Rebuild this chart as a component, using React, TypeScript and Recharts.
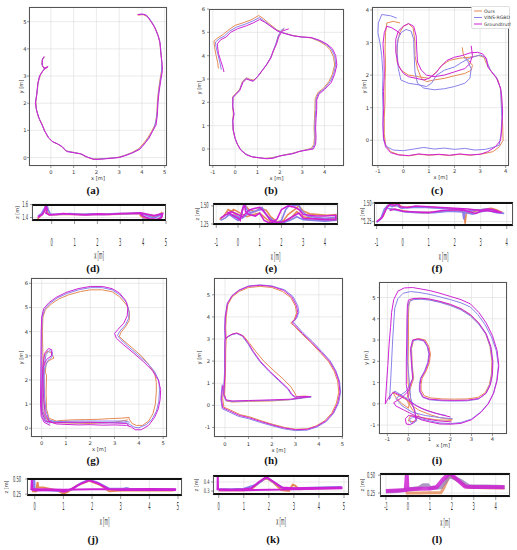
import React from 'react';
import { LineChart, Line, XAxis, YAxis, CartesianGrid } from 'recharts';

const OURS_C = '#e58a55';
const VINS_C = '#8a82ea';
const GT_C = '#cf23d3';
const SERIES_NAMES = ['Ours', 'VINS-RGBD', 'Groundtruth'];

type Pts = number[][];

// ---------- (a) x-y ----------
const A_GT: Pts = [[3.8,5.26],[4.0,5.28],[4.2,5.24],[4.4,5.0],[4.55,4.8],[4.7,4.5],[4.8,4.2],[4.82,3.9],[4.88,3.5],[4.9,3.2],[4.82,2.8],[4.75,2.4],[4.7,2.0],[4.68,1.6],[4.62,1.2],[4.45,0.95],[4.3,0.7],[4.1,0.5],[3.9,0.3],[3.6,0.18],[3.3,0.08],[3.0,0.0],[2.6,-0.03],[2.2,-0.06],[1.9,-0.07],[1.6,0.02],[1.35,0.13],[1.0,0.18],[0.7,0.22],[0.5,0.4],[0.3,0.5],[0.1,0.57],[-0.1,0.72],[-0.25,0.95],[-0.38,1.2],[-0.5,1.4],[-0.62,1.7],[-0.68,2.0],[-0.62,2.3],[-0.58,2.7],[-0.5,3.0],[-0.35,3.2],[-0.2,3.3],[-0.12,3.35],[-0.3,3.28],[-0.38,3.4],[-0.38,3.6],[-0.3,3.72]];
const A_OURS: Pts = [[3.82,5.24],[4.05,5.26],[4.25,5.18],[4.45,4.95],[4.62,4.7],[4.75,4.4],[4.8,4.1],[4.85,3.7],[4.88,3.3],[4.8,2.9],[4.73,2.5],[4.68,2.1],[4.66,1.7],[4.6,1.25],[4.43,0.97],[4.25,0.72],[4.05,0.5],[3.85,0.32],[3.55,0.18],[3.2,0.07],[2.9,0.0],[2.5,-0.03],[2.1,-0.05],[1.8,-0.05],[1.5,0.04],[1.3,0.14],[0.95,0.2],[0.65,0.25],[0.45,0.42],[0.25,0.52],[0.05,0.6],[-0.12,0.75],[-0.28,0.98],[-0.4,1.25],[-0.55,1.5],[-0.64,1.8],[-0.66,2.1],[-0.6,2.45],[-0.55,2.8],[-0.45,3.05],[-0.3,3.25],[-0.15,3.32],[-0.32,3.3],[-0.4,3.45],[-0.36,3.62],[-0.28,3.7]];
const A_VINS: Pts = [[3.85,5.27],[4.1,5.27],[4.3,5.15],[4.5,4.9],[4.65,4.62],[4.78,4.3],[4.83,3.95],[4.87,3.5],[4.86,3.1],[4.78,2.7],[4.72,2.3],[4.69,1.9],[4.64,1.45],[4.52,1.05],[4.35,0.8],[4.15,0.55],[3.95,0.35],[3.65,0.2],[3.3,0.09],[3.0,0.01],[2.6,-0.02],[2.2,-0.05],[1.9,-0.06],[1.55,0.03],[1.3,0.14],[0.98,0.19],[0.68,0.24],[0.48,0.41],[0.28,0.51],[0.08,0.58],[-0.1,0.74],[-0.27,0.97],[-0.4,1.22],[-0.52,1.45],[-0.63,1.75],[-0.67,2.05],[-0.61,2.4],[-0.56,2.75],[-0.48,3.02],[-0.33,3.22],[-0.17,3.32],[-0.31,3.29],[-0.39,3.42],[-0.37,3.61],[-0.29,3.71]];

// ---------- (b) x-y ----------
const B_GT: Pts = [[-0.5,3.3],[-0.55,3.5],[-0.65,3.8],[-0.75,4.1],[-0.8,4.5],[-0.65,4.68],[-0.4,4.8],[-0.2,5.0],[0.1,5.15],[0.5,5.28],[0.8,5.4],[1.1,5.55],[1.3,5.45],[1.6,5.25],[1.9,5.05],[2.2,4.95],[2.6,4.85],[3.0,4.8],[3.4,4.78],[3.8,4.65],[4.1,4.5],[4.35,4.3],[4.5,4.0],[4.55,3.6],[4.45,3.2],[4.3,2.85],[4.0,2.55],[3.75,2.35],[3.65,2.1],[3.65,1.7],[3.62,1.3],[3.6,0.9],[3.62,0.5],[3.6,0.2],[3.5,0.0],[3.2,-0.05],[2.9,-0.1],[2.6,-0.2],[2.3,-0.25],[2.0,-0.3],[1.7,-0.4],[1.4,-0.42],[1.1,-0.38],[0.8,-0.35],[0.5,-0.25],[0.25,-0.05],[0.1,0.2],[0.0,0.45],[-0.08,0.8],[-0.1,1.2],[-0.05,1.5],[-0.1,1.8],[-0.1,2.2],[0.05,2.35],[0.2,2.5],[0.35,2.85],[0.5,3.0],[0.65,2.95],[0.8,2.9],[1.0,3.1],[1.2,3.35],[1.4,3.6],[1.6,3.9],[1.7,4.2],[1.85,4.5],[1.95,4.8],[2.1,5.05],[2.4,5.15]];
const B_OURS: Pts = [[-0.75,3.45],[-0.78,3.7],[-0.85,4.0],[-0.92,4.35],[-0.95,4.62],[-0.8,4.75],[-0.55,4.9],[-0.3,5.1],[0.0,5.3],[0.4,5.42],[0.75,5.55],[1.05,5.72],[1.25,5.6],[1.55,5.35],[1.85,5.12],[2.15,4.98],[2.6,4.86],[3.0,4.8],[3.4,4.76],[3.75,4.62],[4.05,4.45],[4.25,4.25],[4.4,3.95],[4.45,3.6],[4.35,3.2],[4.2,2.9],[3.95,2.6],[3.7,2.42],[3.58,2.15],[3.57,1.7],[3.55,1.3],[3.53,0.9],[3.55,0.5],[3.52,0.2],[3.4,0.02],[3.1,-0.05],[2.8,-0.12],[2.5,-0.2],[2.2,-0.25],[1.9,-0.32],[1.6,-0.38],[1.3,-0.4],[1.0,-0.37],[0.7,-0.32],[0.45,-0.2],[0.22,0.0],[0.08,0.25],[-0.02,0.5],[-0.1,0.85],[-0.12,1.2],[-0.08,1.5],[-0.12,1.85],[-0.1,2.25],[0.05,2.4],[0.2,2.55],[0.33,2.9],[0.5,3.05],[0.68,2.98],[0.85,2.95],[1.05,3.15],[1.25,3.4],[1.45,3.68],[1.62,3.98],[1.75,4.28],[1.85,4.55],[1.93,4.85],[2.05,5.05],[2.2,5.15]];
const B_VINS: Pts = [[-0.62,3.4],[-0.68,3.7],[-0.77,4.05],[-0.86,4.4],[-0.88,4.58],[-0.72,4.72],[-0.47,4.85],[-0.25,5.05],[0.05,5.22],[0.45,5.35],[0.78,5.48],[1.08,5.63],[1.28,5.5],[1.58,5.28],[1.88,5.08],[2.18,4.97],[2.6,4.85],[3.0,4.79],[3.4,4.77],[3.78,4.64],[4.08,4.48],[4.3,4.28],[4.45,3.98],[4.5,3.6],[4.4,3.2],[4.25,2.88],[3.98,2.58],[3.72,2.38],[3.62,2.12],[3.61,1.7],[3.58,1.3],[3.56,0.9],[3.58,0.5],[3.56,0.2],[3.45,0.01],[3.15,-0.05],[2.85,-0.11],[2.55,-0.2],[2.25,-0.25],[1.95,-0.31],[1.65,-0.39],[1.35,-0.41],[1.05,-0.37],[0.75,-0.33],[0.48,-0.22],[0.24,-0.02],[0.09,0.22],[-0.01,0.48],[-0.09,0.82],[-0.11,1.2],[-0.06,1.5],[-0.11,1.82],[-0.1,2.22],[0.05,2.38],[0.2,2.52],[0.34,2.88],[0.5,3.03],[0.66,2.96],[0.82,2.92],[1.02,3.12],[1.22,3.38],[1.42,3.64],[1.6,3.94],[1.72,4.24],[1.83,4.54],[1.92,4.83],[2.05,5.08],[2.2,5.18]];

// ---------- (c) x-y ----------
const C_GT: Pts = [[-0.1,3.25],[-0.25,3.35],[-0.45,3.45],[-0.65,3.5],[-0.75,3.3],[-0.8,2.95],[-0.76,2.5],[-0.75,2.0],[-0.78,1.5],[-0.77,1.0],[-0.8,0.5],[-0.78,0.1],[-0.7,-0.2],[-0.5,-0.38],[-0.2,-0.45],[0.2,-0.47],[0.6,-0.42],[1.0,-0.45],[1.4,-0.43],[1.8,-0.46],[2.2,-0.42],[2.6,-0.45],[3.0,-0.43],[3.3,-0.35],[3.6,-0.2],[3.8,0.0],[3.85,0.4],[3.88,0.9],[3.85,1.3],[3.8,1.6],[3.65,1.9],[3.45,2.1],[3.3,2.25],[3.25,2.5],[3.1,2.65],[2.9,2.7],[2.6,2.68],[2.3,2.6],[2.0,2.55],[1.7,2.45],[1.45,2.25],[1.25,2.05],[1.0,1.9],[0.8,1.85],[0.5,1.9],[0.2,1.95],[0.0,2.05],[-0.2,2.3],[-0.3,2.7],[-0.3,3.1],[-0.2,3.35],[0.0,3.5],[0.2,3.58],[0.4,3.5],[0.5,3.2],[0.52,2.8],[0.55,2.4],[0.7,2.15],[0.9,2.0],[1.2,1.95],[1.6,2.0],[2.0,2.1],[2.4,2.2],[2.6,2.35],[2.7,2.6],[2.65,2.9]];
const C_OURS: Pts = [[2.3,2.85],[2.35,2.6],[2.55,2.45],[2.7,2.3],[2.65,2.15],[2.4,2.05],[2.0,1.98],[1.6,1.9],[1.2,1.85],[0.9,1.8],[0.7,1.9],[0.55,2.2],[0.45,2.6],[0.45,3.0],[0.38,3.45],[0.2,3.58],[0.0,3.5],[-0.15,3.3],[-0.25,2.9],[-0.25,2.4],[-0.1,2.15],[0.2,2.0],[0.6,1.95],[1.0,1.9],[1.3,2.1],[1.5,2.3],[1.8,2.45],[2.2,2.52],[2.6,2.55],[2.95,2.6],[3.15,2.55],[3.25,2.35],[3.45,2.1],[3.7,1.85],[3.82,1.5],[3.85,1.0],[3.88,0.5],[3.9,0.0],[3.75,-0.2],[3.5,-0.35],[3.1,-0.42],[2.6,-0.46],[2.2,-0.43],[1.8,-0.47],[1.4,-0.44],[1.0,-0.46],[0.6,-0.43],[0.2,-0.48],[-0.2,-0.44],[-0.5,-0.35],[-0.7,-0.15],[-0.75,0.2],[-0.75,0.7],[-0.72,1.2],[-0.72,1.8],[-0.7,2.3],[-0.72,2.8],[-0.7,3.3],[-0.65,3.6],[-0.4,3.65],[-0.13,3.6]];
const C_VINS: Pts = [[-0.26,3.75],[-0.5,3.82],[-0.85,3.86],[-0.98,3.6],[-1.0,3.3],[-0.92,3.0],[-0.85,2.6],[-0.8,2.0],[-0.82,1.5],[-0.8,1.0],[-0.8,0.5],[-0.78,0.0],[-0.65,-0.2],[-0.4,-0.3],[0.0,-0.32],[0.4,-0.27],[0.8,-0.22],[1.2,-0.27],[1.6,-0.24],[2.0,-0.28],[2.4,-0.25],[2.8,-0.3],[3.2,-0.28],[3.5,-0.22],[3.75,-0.15],[3.82,0.2],[3.85,0.7],[3.82,1.2],[3.8,1.6],[3.62,1.95],[3.4,2.15],[3.3,2.35],[3.2,2.55],[3.0,2.62],[2.6,2.52],[2.3,2.4],[2.0,2.25],[1.6,2.15],[1.3,2.0],[1.1,1.75],[0.9,1.65],[0.6,1.7],[0.2,1.75],[-0.1,1.85],[-0.2,2.2],[-0.25,2.7],[-0.22,3.1],[-0.1,3.3],[0.1,3.4],[0.3,3.35],[0.4,3.1],[0.42,2.6],[0.45,2.1],[0.55,1.75],[0.8,1.6],[1.2,1.55],[1.6,1.58],[2.0,1.65],[2.4,1.75],[2.6,1.9],[2.65,2.2],[2.5,2.45],[2.35,2.55]];

// ---------- (d) x-z ----------
const D_GT: Pts = [[-0.6,1.4],[-0.5,1.43],[-0.4,1.45],[-0.3,1.52],[-0.25,1.58],[-0.2,1.52],[-0.25,1.47],[-0.1,1.44],[0.2,1.45],[0.5,1.46],[1.0,1.45],[1.5,1.44],[2.0,1.455],[2.5,1.45],[3.0,1.46],[3.5,1.465],[3.9,1.47],[4.2,1.45],[4.5,1.43],[4.7,1.45],[4.85,1.46],[4.8,1.4],[4.6,1.37],[4.3,1.38],[4.0,1.42],[3.85,1.47]];
const D_OURS: Pts = [[-0.62,1.38],[-0.5,1.42],[-0.35,1.48],[-0.28,1.55],[-0.22,1.5],[-0.1,1.44],[0.2,1.445],[0.6,1.455],[1.0,1.45],[1.5,1.445],[2.0,1.45],[2.5,1.448],[3.0,1.455],[3.5,1.46],[3.9,1.46],[4.2,1.44],[4.45,1.42],[4.7,1.44],[4.8,1.47],[4.82,1.42],[4.6,1.36],[4.3,1.37],[4.0,1.4],[3.85,1.44]];
const D_VINS: Pts = [[-0.6,1.42],[-0.45,1.46],[-0.3,1.55],[-0.22,1.6],[-0.15,1.52],[-0.05,1.45],[0.3,1.45],[0.8,1.46],[1.3,1.45],[1.8,1.455],[2.3,1.45],[2.8,1.46],[3.3,1.46],[3.8,1.47],[4.1,1.44],[4.4,1.4],[4.6,1.41],[4.8,1.45],[4.75,1.38],[4.5,1.35],[4.2,1.36],[3.95,1.38]];

// ---------- (e) x-z ----------
const E_GT: Pts = [[-0.8,1.33],[-0.6,1.37],[-0.4,1.4],[-0.2,1.36],[0.0,1.33],[0.1,1.3],[0.2,1.45],[0.3,1.52],[0.35,1.42],[0.5,1.38],[0.8,1.36],[1.0,1.4],[1.2,1.3],[1.4,1.27],[1.6,1.27],[1.8,1.32],[2.0,1.45],[2.3,1.5],[2.6,1.48],[2.8,1.45],[3.0,1.38],[3.3,1.37],[3.6,1.36],[4.0,1.36],[4.5,1.37],[4.5,1.31],[4.0,1.31],[3.5,1.32],[3.0,1.33],[2.8,1.4],[2.5,1.35],[2.1,1.28],[1.8,1.27],[1.5,1.3],[1.2,1.42],[1.0,1.48],[0.7,1.46],[0.5,1.44],[0.2,1.35],[0.0,1.38],[-0.3,1.42],[-0.5,1.4]];
const E_OURS: Pts = [[-0.85,1.31],[-0.65,1.36],[-0.45,1.45],[-0.25,1.42],[-0.05,1.36],[0.1,1.33],[0.25,1.48],[0.35,1.5],[0.5,1.45],[0.8,1.42],[1.0,1.47],[1.3,1.44],[1.5,1.35],[1.8,1.28],[2.1,1.3],[2.3,1.38],[2.6,1.45],[2.8,1.5],[3.0,1.43],[3.3,1.39],[3.7,1.38],[4.1,1.37],[4.5,1.38],[4.5,1.32],[4.0,1.32],[3.4,1.33],[3.0,1.35],[2.7,1.42],[2.4,1.32],[2.0,1.27],[1.6,1.26],[1.3,1.32],[1.0,1.4],[0.7,1.38],[0.4,1.35],[0.1,1.4],[-0.2,1.45],[-0.5,1.38]];
const E_VINS: Pts = [[-0.8,1.3],[-0.6,1.33],[-0.4,1.38],[-0.2,1.34],[0.0,1.3],[0.15,1.36],[0.25,1.5],[0.3,1.55],[0.4,1.45],[0.6,1.4],[0.9,1.44],[1.1,1.48],[1.3,1.38],[1.5,1.3],[1.8,1.26],[2.0,1.3],[2.2,1.45],[2.4,1.52],[2.6,1.5],[2.8,1.52],[2.9,1.44],[3.2,1.36],[3.6,1.34],[4.0,1.33],[4.5,1.34],[4.5,1.3],[4.0,1.29],[3.5,1.3],[3.0,1.31],[2.7,1.35],[2.4,1.3],[2.0,1.26],[1.7,1.28],[1.4,1.35],[1.1,1.45],[0.8,1.43],[0.5,1.4],[0.2,1.33],[-0.1,1.36],[-0.4,1.39]];

// ---------- (f) x-z ----------
const F_GT: Pts = [[-1.0,1.25],[-0.8,1.3],[-0.6,1.44],[-0.5,1.48],[-0.3,1.47],[-0.2,1.5],[-0.1,1.45],[0.2,1.44],[0.5,1.46],[1.0,1.45],[1.5,1.44],[2.0,1.43],[2.5,1.42],[3.0,1.4],[3.3,1.42],[3.5,1.41],[3.8,1.37],[3.6,1.38],[3.2,1.4],[3.0,1.39],[2.8,1.36],[2.6,1.38],[2.4,1.4],[2.0,1.41],[1.5,1.4],[1.0,1.37],[0.5,1.38],[0.0,1.39],[-0.3,1.42],[-0.5,1.4]];
const F_OURS: Pts = [[-0.95,1.26],[-0.75,1.32],[-0.6,1.46],[-0.45,1.49],[-0.3,1.46],[-0.15,1.48],[0.0,1.44],[0.3,1.45],[0.7,1.45],[1.2,1.44],[1.7,1.43],[2.1,1.42],[2.35,1.4],[2.4,1.22],[2.45,1.38],[2.7,1.41],[3.0,1.41],[3.4,1.43],[3.6,1.41],[3.85,1.37],[3.6,1.39],[3.2,1.41],[2.9,1.4],[2.6,1.37],[2.2,1.39],[1.8,1.4],[1.3,1.38],[0.8,1.37],[0.3,1.38],[-0.2,1.41],[-0.5,1.42]];
const F_VINS: Pts = [[-1.0,1.24],[-0.85,1.28],[-0.7,1.42],[-0.55,1.47],[-0.4,1.45],[-0.25,1.47],[-0.05,1.43],[0.4,1.44],[0.9,1.44],[1.4,1.43],[1.9,1.42],[2.3,1.41],[2.35,1.28],[2.4,1.39],[2.8,1.4],[3.2,1.42],[3.5,1.4],[3.9,1.36],[3.6,1.37],[3.3,1.4],[2.95,1.38],[2.7,1.35],[2.3,1.38],[1.8,1.39],[1.2,1.37],[0.6,1.37],[0.1,1.38],[-0.3,1.41],[-0.6,1.43]];

// ---------- (g) x-y ----------
const G_GT: Pts = [[0.35,0.12],[0.1,0.25],[-0.02,0.5],[-0.05,1.0],[-0.04,2.0],[-0.03,3.0],[-0.02,4.0],[0.0,4.6],[0.08,4.95],[0.3,5.2],[0.6,5.42],[1.0,5.62],[1.5,5.78],[2.0,5.87],[2.5,5.87],[2.9,5.78],[3.2,5.6],[3.45,5.3],[3.55,5.0],[3.52,4.65],[3.38,4.35],[3.15,4.1],[3.0,3.92],[3.08,3.72],[3.38,3.45],[3.8,3.1],[4.2,2.75],[4.55,2.4],[4.8,2.0],[4.9,1.6],[4.88,1.2],[4.8,0.8],[4.65,0.45],[4.4,0.12],[4.1,-0.06],[3.85,-0.06],[3.7,0.05],[3.5,0.12],[3.0,0.14],[2.5,0.13],[2.0,0.15],[1.5,0.14],[1.0,0.16],[0.6,0.18],[0.3,0.3],[0.15,0.6],[0.08,1.2],[0.05,2.0],[0.05,2.6],[0.12,3.1],[0.28,3.3],[0.42,3.25],[0.4,3.0],[0.2,2.85],[0.05,2.5],[0.0,1.5],[0.0,0.7],[0.15,0.3],[0.5,0.22],[1.0,0.25],[2.0,0.25],[3.0,0.22],[3.5,0.2],[3.6,0.1]];
const G_OURS: Pts = [[0.4,0.3],[0.2,0.38],[0.05,0.55],[0.03,1.0],[0.05,2.0],[0.05,3.0],[0.03,4.0],[0.05,4.6],[0.15,4.9],[0.4,5.15],[0.7,5.35],[1.1,5.52],[1.6,5.66],[2.0,5.73],[2.5,5.73],[2.9,5.65],[3.2,5.45],[3.5,5.1],[3.62,4.75],[3.6,4.45],[3.45,4.2],[3.25,3.95],[3.2,3.8],[3.35,3.65],[3.7,3.35],[4.1,3.0],[4.4,2.65],[4.65,2.3],[4.72,1.9],[4.72,1.5],[4.68,1.0],[4.58,0.6],[4.4,0.3],[4.15,0.12],[3.9,0.12],[3.72,0.2],[3.6,0.38],[3.6,0.45],[3.3,0.42],[2.8,0.4],[2.3,0.37],[1.8,0.36],[1.3,0.35],[0.9,0.33],[0.6,0.3],[0.3,0.42],[0.2,0.8],[0.18,1.5],[0.2,2.2],[0.15,2.3],[0.18,2.7],[0.38,2.85],[0.5,2.9],[0.42,3.1],[0.25,3.2],[0.1,3.0],[0.08,2.5],[0.1,1.5],[0.1,0.6],[0.3,0.25],[1.0,0.22],[2.0,0.2],[3.0,0.25],[3.55,0.35]];
const G_VINS: Pts = [[0.35,0.2],[0.12,0.3],[0.0,0.55],[-0.01,1.0],[0.0,2.0],[0.0,3.0],[0.0,4.0],[0.02,4.6],[0.12,4.92],[0.35,5.18],[0.65,5.4],[1.05,5.58],[1.55,5.74],[2.0,5.82],[2.5,5.82],[2.9,5.73],[3.22,5.52],[3.5,5.2],[3.6,4.85],[3.58,4.55],[3.45,4.28],[3.22,4.02],[3.12,3.85],[3.25,3.68],[3.55,3.4],[3.95,3.05],[4.35,2.7],[4.65,2.35],[4.83,1.95],[4.85,1.55],[4.82,1.1],[4.72,0.7],[4.55,0.38],[4.3,0.15],[4.0,0.02],[3.8,0.05],[3.65,0.15],[3.5,0.22],[3.0,0.24],[2.5,0.22],[2.0,0.24],[1.5,0.23],[1.0,0.24],[0.6,0.26],[0.3,0.35],[0.18,0.7],[0.12,1.3],[0.1,2.0],[0.1,2.6],[0.18,3.05],[0.32,3.22],[0.45,3.15],[0.42,2.95],[0.25,2.8],[0.1,2.4],[0.05,1.5],[0.05,0.7],[0.2,0.3],[0.6,0.28],[1.5,0.3],[2.5,0.3],[3.4,0.3],[3.62,0.25]];

// ---------- (h) x-y ----------
const H_GT: Pts = [[-0.1,0.9],[-0.15,0.3],[-0.1,-0.1],[0.2,-0.25],[0.6,-0.45],[1.0,-0.55],[1.5,-0.72],[2.0,-0.88],[2.5,-1.02],[3.0,-1.1],[3.5,-1.08],[3.9,-0.95],[4.3,-0.7],[4.6,-0.35],[4.8,0.1],[4.9,0.6],[4.85,1.1],[4.7,1.55],[4.45,2.0],[4.1,2.4],[3.7,2.85],[3.3,3.25],[2.95,3.65],[2.85,3.75],[3.0,3.9],[3.1,4.2],[3.05,4.5],[2.85,4.9],[2.5,5.2],[2.0,5.38],[1.5,5.43],[1.0,5.38],[0.6,5.2],[0.3,4.95],[0.1,4.6],[0.02,4.0],[0.0,3.5],[0.02,3.0],[0.1,3.1],[0.3,3.22],[0.5,3.27],[0.75,3.15],[1.0,2.8],[1.2,2.45],[1.5,2.0],[1.9,1.55],[2.3,1.15],[2.7,0.75],[2.85,0.5],[3.0,0.38],[3.4,0.4],[3.65,0.4],[3.3,0.35],[2.8,0.28],[2.0,0.25],[1.0,0.22],[0.3,0.2],[0.05,0.25],[-0.05,0.5],[0.0,1.5],[0.0,2.5],[0.0,3.0]];
const H_OURS: Pts = [[-0.05,0.9],[-0.1,0.3],[-0.05,-0.08],[0.25,-0.22],[0.65,-0.42],[1.05,-0.52],[1.55,-0.7],[2.05,-0.86],[2.55,-1.0],[3.0,-1.08],[3.5,-1.06],[3.88,-0.93],[4.25,-0.7],[4.55,-0.35],[4.75,0.1],[4.85,0.6],[4.8,1.1],[4.65,1.55],[4.4,2.0],[4.05,2.4],[3.65,2.85],[3.25,3.25],[2.92,3.62],[2.8,3.72],[2.95,3.88],[3.05,4.18],[3.0,4.5],[2.8,4.88],[2.45,5.15],[2.0,5.33],[1.5,5.38],[1.0,5.33],[0.6,5.15],[0.3,4.9],[0.12,4.55],[0.05,4.0],[0.03,3.5],[0.05,3.0],[0.12,3.1],[0.3,3.22],[0.5,3.27],[0.78,3.15],[1.05,2.8],[1.3,2.45],[1.65,2.0],[2.05,1.6],[2.45,1.22],[2.8,0.85],[2.95,0.6],[3.05,0.4],[3.4,0.42],[3.6,0.4],[3.2,0.33],[2.7,0.25],[2.0,0.2],[1.0,0.18],[0.3,0.15],[0.05,0.2],[-0.02,0.5],[0.02,1.5],[0.03,2.5],[0.05,3.0]];
const H_VINS: Pts = [[-0.12,0.95],[-0.18,0.3],[-0.12,-0.15],[0.18,-0.3],[0.58,-0.5],[1.0,-0.6],[1.5,-0.77],[2.0,-0.92],[2.5,-1.06],[3.0,-1.14],[3.5,-1.12],[3.92,-0.98],[4.33,-0.72],[4.63,-0.36],[4.84,0.1],[4.93,0.6],[4.88,1.1],[4.73,1.56],[4.48,2.02],[4.13,2.43],[3.73,2.88],[3.33,3.28],[3.0,3.66],[2.9,3.78],[3.05,3.93],[3.15,4.22],[3.1,4.52],[2.9,4.92],[2.55,5.22],[2.0,5.4],[1.5,5.45],[1.0,5.4],[0.6,5.22],[0.3,4.97],[0.1,4.62],[0.0,4.0],[-0.02,3.5],[0.0,3.0],[0.08,3.08],[0.3,3.2],[0.5,3.25],[0.74,3.13],[0.98,2.78],[1.18,2.43],[1.48,1.98],[1.88,1.53],[2.28,1.13],[2.68,0.73],[2.83,0.48],[2.98,0.36],[3.4,0.38],[3.68,0.38],[3.3,0.33],[2.8,0.26],[2.0,0.23],[1.0,0.2],[0.3,0.18],[0.03,0.22],[-0.07,0.5],[-0.02,1.5],[-0.02,2.5],[0.0,3.0]];

// ---------- (i) x-y ----------
const I_GT: Pts = [[2.0,-0.62],[1.5,-0.5],[1.0,-0.35],[0.6,-0.2],[0.3,-0.05],[0.0,0.15],[-0.4,0.4],[-0.7,0.55],[-0.9,0.35],[-1.05,0.1],[-1.1,0.0],[-1.05,0.8],[-0.98,1.8],[-0.92,2.8],[-0.85,3.6],[-0.8,4.3],[-0.7,4.9],[-0.5,5.3],[-0.2,5.45],[0.2,5.47],[0.6,5.4],[1.0,5.33],[1.5,5.2],[2.0,5.05],[2.5,4.9],[2.95,4.7],[3.35,4.3],[3.7,3.8],[4.0,3.2],[4.22,2.5],[4.3,1.8],[4.22,1.1],[4.05,0.5],[3.8,0.0],[3.45,-0.4],[3.0,-0.75],[2.5,-0.92],[2.0,-0.96],[1.5,-0.95],[1.0,-0.85],[0.6,-0.75],[0.3,-0.6],[0.0,-0.55],[-0.15,-0.7],[-0.1,-0.95],[0.1,-0.98],[0.35,-0.75],[0.3,-0.3],[0.0,0.3],[-0.1,0.9],[-0.1,2.0],[-0.08,3.0],[-0.07,4.0],[-0.05,4.6],[0.0,4.88],[0.2,4.95],[0.6,4.97],[1.0,4.93],[1.5,4.82],[2.0,4.68],[2.5,4.48],[2.95,4.2],[3.35,3.8],[3.7,3.3],[3.92,2.7],[4.02,2.0],[4.0,1.4],[3.9,0.9],[3.7,0.5],[3.35,0.25],[2.8,0.17],[2.2,0.16],[1.6,0.17],[1.0,0.22],[0.7,0.32],[0.55,0.6],[0.55,0.9],[0.6,1.2],[0.8,1.55],[0.95,1.95],[1.0,2.35],[0.92,2.7],[0.75,2.98],[0.45,3.05],[0.2,3.0],[0.1,2.6],[0.15,1.8],[0.2,1.2],[0.0,0.6],[-0.3,0.3],[-0.7,0.05],[-0.6,-0.1],[-0.2,-0.3],[0.3,-0.55],[0.8,-0.7],[1.4,-0.8],[2.05,-0.85]];
const I_OURS: Pts = [[2.1,-0.75],[1.5,-0.65],[1.0,-0.5],[0.5,-0.3],[0.2,-0.1],[-0.1,0.2],[-0.5,0.4],[-0.75,0.55],[-0.6,0.3],[-0.3,0.0],[0.0,-0.2],[0.1,0.3],[-0.02,1.0],[-0.02,2.0],[0.0,3.0],[0.0,4.0],[0.02,4.6],[0.08,4.85],[0.25,4.93],[0.6,4.95],[1.0,4.9],[1.5,4.8],[2.0,4.65],[2.5,4.45],[2.95,4.17],[3.35,3.78],[3.68,3.28],[3.88,2.7],[3.97,2.0],[3.95,1.4],[3.85,0.9],[3.65,0.52],[3.3,0.3],[2.8,0.23],[2.2,0.22],[1.6,0.23],[1.05,0.28],[0.75,0.38],[0.6,0.65],[0.6,0.9],[0.65,1.2],[0.85,1.55],[1.0,1.95],[1.05,2.35],[0.97,2.7],[0.8,3.0],[0.5,3.07],[0.25,3.02],[0.15,2.6],[0.18,1.8],[0.25,1.2],[0.05,0.6],[-0.1,0.2],[0.2,-0.3],[0.5,-0.55],[0.3,-0.85],[0.0,-0.8],[0.1,-0.55],[0.7,-0.65],[1.3,-0.75],[2.05,-0.78]];
const I_VINS: Pts = [[1.8,-0.55],[1.3,-0.45],[0.8,-0.3],[0.4,-0.1],[0.0,0.2],[-0.4,0.45],[-0.65,0.6],[-0.8,0.45],[-0.9,0.2],[-0.85,1.0],[-0.8,2.0],[-0.75,3.0],[-0.7,3.8],[-0.65,4.5],[-0.5,4.95],[-0.25,5.2],[0.1,5.28],[0.5,5.24],[1.0,5.15],[1.5,5.03],[2.0,4.9],[2.5,4.75],[2.95,4.55],[3.3,4.2],[3.65,3.72],[3.95,3.15],[4.18,2.5],[4.28,1.8],[4.2,1.1],[4.05,0.5],[3.8,0.02],[3.45,-0.38],[3.0,-0.72],[2.5,-0.88],[2.0,-0.93],[1.5,-0.9],[1.0,-0.8],[0.5,-0.68],[0.2,-0.62],[0.05,-0.75],[0.15,-0.95],[0.4,-0.8],[0.3,-0.35],[0.1,0.3],[0.05,1.0],[-0.05,2.0],[-0.05,3.0],[-0.04,4.0],[-0.02,4.55],[0.05,4.82],[0.25,4.9],[0.6,4.92],[1.0,4.88],[1.5,4.77],[2.0,4.62],[2.5,4.42],[2.95,4.13],[3.35,3.74],[3.7,3.25],[3.9,2.68],[4.0,2.0],[3.98,1.4],[3.88,0.9],[3.68,0.48],[3.33,0.22],[2.8,0.14],[2.2,0.13],[1.6,0.14],[1.0,0.19],[0.68,0.3],[0.52,0.6],[0.52,0.9],[0.57,1.2],[0.77,1.55],[0.92,1.95],[0.97,2.35],[0.89,2.7],[0.72,2.96],[0.45,3.02],[0.22,2.97],[0.12,2.6],[0.17,1.8],[0.22,1.2],[-0.1,0.6],[-0.6,0.25],[-0.3,-0.1],[0.2,-0.4],[0.8,-0.55],[1.5,-0.65],[2.1,-0.7]];

// ---------- (j) x-z ----------
const J_GT: Pts = [[-0.12,0.32],[-0.1,0.5],[-0.08,0.32],[0.05,0.31],[0.5,0.32],[0.9,0.31],[1.0,0.29],[1.1,0.3],[1.3,0.34],[1.6,0.42],[1.9,0.48],[2.2,0.43],[2.6,0.33],[3.0,0.32],[3.5,0.325],[4.0,0.32],[4.5,0.32],[4.9,0.32],[4.9,0.33],[4.0,0.335],[3.0,0.33],[2.0,0.33],[1.0,0.325],[0.3,0.33],[-0.05,0.33]];
const J_OURS: Pts = [[-0.1,0.3],[0.05,0.3],[0.1,0.45],[0.12,0.36],[0.3,0.36],[0.5,0.34],[0.8,0.31],[1.0,0.26],[1.15,0.29],[1.5,0.4],[1.9,0.47],[2.3,0.4],[2.6,0.3],[3.0,0.31],[4.0,0.31],[4.85,0.31]];
const J_VINS: Pts = [[-0.05,0.31],[-0.02,0.5],[0.0,0.32],[0.5,0.315],[1.0,0.3],[1.3,0.33],[1.6,0.43],[1.9,0.49],[2.2,0.44],[2.6,0.34],[3.1,0.34],[3.2,0.35],[3.3,0.34],[4.0,0.33],[4.9,0.33]];

// ---------- (k) x-z ----------
const K_GT: Pts = [[-0.05,0.31],[-0.04,0.478],[-0.03,0.32],[0.5,0.315],[1.0,0.32],[1.3,0.33],[1.6,0.4],[1.9,0.455],[2.2,0.4],[2.5,0.34],[3.0,0.33],[3.5,0.333],[4.0,0.335],[4.9,0.34],[4.9,0.33],[4.0,0.325],[3.0,0.32],[2.0,0.315],[1.0,0.31],[0.0,0.31]];
const K_OURS: Pts = [[0.0,0.31],[0.5,0.31],[1.0,0.31],[1.3,0.32],[1.6,0.39],[1.9,0.445],[2.2,0.39],[2.5,0.31],[2.8,0.3],[2.95,0.37],[3.05,0.36],[3.2,0.32],[4.0,0.33],[4.9,0.335]];
const K_VINS: Pts = [[-0.08,0.32],[0.5,0.32],[1.0,0.325],[1.5,0.37],[1.9,0.45],[2.3,0.38],[2.6,0.33],[3.0,0.33],[4.0,0.34],[4.9,0.345]];

// ---------- (l) x-z ----------
const L_GT: Pts = [[-1.0,0.28],[-0.5,0.285],[-0.1,0.29],[-0.05,0.5],[-0.02,0.3],[0.5,0.31],[1.0,0.315],[1.3,0.33],[1.6,0.44],[1.9,0.53],[2.2,0.45],[2.6,0.34],[3.0,0.335],[3.5,0.335],[4.4,0.33]];
const L_OURS: Pts = [[-0.1,0.25],[0.5,0.25],[1.0,0.255],[1.5,0.255],[1.6,0.3],[1.9,0.5],[2.3,0.42],[2.7,0.33],[3.5,0.325],[4.4,0.32]];
const L_VINS: Pts = [[-1.0,0.27],[-0.5,0.28],[0.0,0.3],[0.5,0.32],[0.7,0.36],[0.9,0.36],[1.0,0.32],[1.5,0.33],[1.9,0.49],[2.4,0.42],[2.8,0.34],[3.5,0.34],[4.4,0.335]];

// ---------- ticks ----------
const T_0_5 = [0, 1, 2, 3, 4, 5];
const T_0_6 = [0, 1, 2, 3, 4, 5, 6];
const T_0_4 = [0, 1, 2, 3, 4];
const T_m1_4 = [-1, 0, 1, 2, 3, 4];
const T_m1_5 = [-1, 0, 1, 2, 3, 4, 5];

const CAPTIONS: [string, number, number][] = [
  ['(a)', 93, 190], ['(b)', 271, 190], ['(c)', 437, 190],
  ['(d)', 93, 268], ['(e)', 271, 268], ['(f)', 437, 268],
  ['(g)', 93, 460], ['(h)', 271, 460], ['(i)', 437, 460],
  ['(j)', 93, 539], ['(k)', 273, 539], ['(l)', 437, 539],
];

const toPts = (a: Pts) => a.map(([x, y]) => ({ x, y }));
const f0 = (v: number) => String(v);
const f2 = (v: number) => v.toFixed(2);
const f1 = (v: number) => v.toFixed(1);

interface PanelDef {
  frame: [number, number, number, number];
  xDomain: [number, number];
  yDomain: [number, number];
  xTicks: number[];
  yTicks: number[];
  ours: Pts; vins: Pts; gt: Pts;
  xz: boolean;
  yFmt: (v: number) => string;
  xTickGap: number; xNameGap: number; yTickGap: number; yNameGap: number;
  lw: number;
  ySy?: number;
  band?: boolean;
}

const PANELS: PanelDef[] = [
  { frame: [29, 7, 167, 166], xDomain: [-0.96, 5.1], yDomain: [-0.31, 5.54], xTicks: T_0_5, yTicks: T_0_5, ours: A_OURS, vins: A_VINS, gt: A_GT, xz: false, yFmt: f0, xTickGap: 6, xNameGap: 12, yTickGap: 2.5, yNameGap: 8, lw: 1 },
  { frame: [209, 9, 344, 166], xDomain: [-1.17, 4.87], yDomain: [-0.73, 6.0], xTicks: T_m1_4, yTicks: T_0_6, ours: B_OURS, vins: B_VINS, gt: B_GT, xz: false, yFmt: f0, xTickGap: 5.7, xNameGap: 12, yTickGap: 4, yNameGap: 10, lw: 1 },
  { frame: [372, 7, 509, 166], xDomain: [-1.23, 4.13], yDomain: [-0.79, 4.09], xTicks: T_m1_4, yTicks: T_0_4, ours: C_OURS, vins: C_VINS, gt: C_GT, xz: false, yFmt: f0, xTickGap: 4.5, xNameGap: 11, yTickGap: 3, yNameGap: 8, lw: 1 },
  { frame: [32, 204, 166, 221], xDomain: [-0.86, 5.0], yDomain: [1.346, 1.61], xTicks: T_0_5, yTicks: [1.4, 1.6], ours: D_OURS, vins: D_VINS, gt: D_GT, xz: true, yFmt: f1, xTickGap: 22, xNameGap: 35, yTickGap: 4, yNameGap: 15, lw: 1.8, ySy: 1.4 },
  { frame: [213, 203, 338, 225], xDomain: [-1.15, 4.6], yDomain: [1.236, 1.54], xTicks: T_m1_4, yTicks: [1.25, 1.5], ours: E_OURS, vins: E_VINS, gt: E_GT, xz: true, yFmt: f2, xTickGap: 18, xNameGap: 32, yTickGap: 4.5, yNameGap: 16, lw: 1.6, ySy: 1.4 },
  { frame: [374, 202, 513, 226], xDomain: [-1.1, 4.24], yDomain: [1.19, 1.514], xTicks: T_m1_4, yTicks: [1.25, 1.5], ours: F_OURS, vins: F_VINS, gt: F_GT, xz: true, yFmt: f2, xTickGap: 17, xNameGap: 31, yTickGap: 2.5, yNameGap: 12, lw: 1.6, ySy: 1.4 },
  { frame: [31, 278, 167, 437], xDomain: [-0.44, 5.16], yDomain: [-0.36, 6.22], xTicks: T_0_5, yTicks: T_0_6, ours: G_OURS, vins: G_VINS, gt: G_GT, xz: false, yFmt: f0, xTickGap: 6, xNameGap: 12, yTickGap: 3, yNameGap: 10, lw: 1 },
  { frame: [214, 278, 343, 437], xDomain: [-0.47, 5.03], yDomain: [-1.43, 5.76], xTicks: T_0_5, yTicks: T_m1_5, ours: H_OURS, vins: H_VINS, gt: H_GT, xz: false, yFmt: f0, xTickGap: 6.5, xNameGap: 12.5, yTickGap: 4, yNameGap: 15, lw: 1 },
  { frame: [379, 282, 507, 434], xDomain: [-1.4, 4.69], yDomain: [-1.42, 5.73], xTicks: T_m1_4, yTicks: T_m1_5, ours: I_OURS, vins: I_VINS, gt: I_GT, xz: false, yFmt: f0, xTickGap: 5, xNameGap: 11, yTickGap: 3.5, yNameGap: 13, lw: 1 },
  { frame: [27, 478, 182, 496], xDomain: [-0.27, 5.14], yDomain: [0.22, 0.517], xTicks: T_0_5, yTicks: [0.25, 0.5], ours: J_OURS, vins: J_VINS, gt: J_GT, xz: true, yFmt: f2, xTickGap: 11, xNameGap: 26, yTickGap: 6, yNameGap: 21, lw: 2, ySy: 1.4 },
  { frame: [213, 475, 349, 495], xDomain: [-0.23, 5.2], yDomain: [0.256, 0.478], xTicks: T_0_5, yTicks: [0.3, 0.4], ours: K_OURS, vins: K_VINS, gt: K_GT, xz: true, yFmt: f1, xTickGap: 11.5, xNameGap: 26.5, yTickGap: 3.5, yNameGap: 17, lw: 2, ySy: 1.05 },
  { frame: [380, 473, 510, 497], xDomain: [-1.27, 4.65], yDomain: [0.195, 0.53], xTicks: T_m1_4, yTicks: [0.25, 0.5], ours: L_OURS, vins: L_VINS, gt: L_GT, xz: true, yFmt: f2, xTickGap: 10, xNameGap: 26, yTickGap: 5, yNameGap: 18, lw: 2, band: true, ySy: 1.4 },
];

const FONT = 'DejaVu Sans';

function Panel({ p }: { p: PanelDef }) {
  const [x0, y0, x1, y1] = p.frame;
  const padL = 34, padT = 10, padR = 4, padB = 44;
  const pw = x1 - x0, ph = y1 - y0;
  const W = pw + padL + padR, H = ph + padT + padB;
  const sx = p.xz ? 0.6 : 1;
  const sy = p.xz ? 1.8 : 1;
  const ysy = p.ySy ?? sy;
  const fs = p.xz ? 6 : 5.2;

  const xTick = (props: any) => {
    const { x, payload } = props;
    const cy = padT + ph + p.xTickGap;
    return (
      <text transform={`translate(${x},${cy}) scale(${sx},${sy})`} textAnchor="middle" dominantBaseline="central" fontSize={fs} fontFamily={FONT} fill="#333">
        {String(payload.value)}
      </text>
    );
  };
  const yTick = (props: any) => {
    const { y, payload } = props;
    const rx = padL - p.yTickGap;
    return (
      <text transform={`translate(${rx},${y}) scale(${sx},${ysy})`} textAnchor="end" dominantBaseline="central" fontSize={fs} fontFamily={FONT} fill="#333">
        {p.yFmt(payload.value)}
      </text>
    );
  };

  const lw = p.lw;
  const bandW = p.band ? 4 : lw;
  return (
    <div style={{ position: 'absolute', left: x0 - padL, top: y0 - padT, width: W, height: H }}>
      <LineChart width={W} height={H} margin={{ top: padT, right: padR, left: 0, bottom: 0 }}>
        <CartesianGrid stroke="#dcdcdc" strokeWidth={0.6} />
        <XAxis type="number" dataKey="x" domain={p.xDomain} ticks={p.xTicks} interval={0} allowDataOverflow height={padB}
          axisLine={false} tickLine={{ stroke: '#555', strokeWidth: 0.6 }} tickSize={p.xz ? 3 : 2} tick={xTick} />
        <YAxis type="number" dataKey="y" domain={p.yDomain} ticks={p.yTicks} interval={0} allowDataOverflow width={padL}
          axisLine={false} tickLine={{ stroke: '#555', strokeWidth: 0.6 }} tickSize={2} tick={yTick} />
        <Line data={toPts(p.ours)} dataKey="y" name={SERIES_NAMES[0]} stroke={OURS_C} strokeWidth={p.band ? 3 : lw} strokeOpacity={p.band ? 0.8 : 1} dot={false} isAnimationActive={false} type="linear" />
        <Line data={toPts(p.vins)} dataKey="y" name={SERIES_NAMES[1]} stroke={p.band ? '#9a7fb5' : VINS_C} strokeWidth={bandW} strokeOpacity={p.band ? 0.8 : 1} dot={false} isAnimationActive={false} type="linear" />
        <Line data={toPts(p.gt)} dataKey="y" name={SERIES_NAMES[2]} stroke={GT_C} strokeWidth={bandW} strokeOpacity={p.band ? 0.85 : 1} dot={false} isAnimationActive={false} type="linear" />
      </LineChart>
      <div style={{
        position: 'absolute', left: padL, top: padT, width: pw, height: ph, boxSizing: 'border-box', pointerEvents: 'none',
        borderLeft: '1px solid #555', borderRight: '1px solid #555',
        borderTop: p.xz ? '2px solid #111' : '1px solid #555',
        borderBottom: p.xz ? '2px solid #111' : '1px solid #555',
      }} />
      <svg width={W} height={H} style={{ position: 'absolute', left: 0, top: 0, pointerEvents: 'none' }}>
        <text transform={`translate(${padL + pw / 2},${padT + ph + p.xNameGap}) scale(${sx},${sy})`} textAnchor="middle" dominantBaseline="central" fontSize={fs} fontFamily={FONT} fill="#333">x [m]</text>
        <text transform={`translate(${padL - p.yNameGap},${padT + ph / 2}) rotate(-90)`} textAnchor="middle" dominantBaseline="central" fontSize={p.xz ? 5 : 5.2} fontFamily={FONT} fill="#333">{p.xz ? 'z [m]' : 'y [m]'}</text>
      </svg>
    </div>
  );
}

function LegendBox() {
  const colors = [OURS_C, VINS_C, GT_C];
  return (
    <svg width={40} height={24} style={{ position: 'absolute', left: 471, top: 6 }}>
      <rect x={0.5} y={0.5} width={38} height={22} fill="#fff" stroke="#ccc" strokeWidth={0.6} rx={1} />
      {SERIES_NAMES.map((n, i) => (
        <g key={n}>
          <line x1={3} x2={11} y1={5 + i * 6.5} y2={5 + i * 6.5} stroke={colors[i]} strokeWidth={1} />
          <text x={13} y={5 + i * 6.5} dominantBaseline="central" fontSize={4.6} fontFamily={FONT} fill="#333">{n}</text>
        </g>
      ))}
    </svg>
  );
}

export default function App() {
  return (
    <div style={{ position: 'absolute', left: 0, top: 0, width: 517, height: 550, background: '#fff', overflow: 'hidden' }}>
      {PANELS.map((p, i) => <Panel key={i} p={p} />)}
      <LegendBox />
      {CAPTIONS.map(([t, x, y]) => (
        <div key={t} style={{ position: 'absolute', left: x, top: y, transform: 'translate(-50%,-50%)', fontFamily: 'Liberation Serif', fontWeight: 'bold', fontSize: 11, color: '#111', lineHeight: 1 }}>{t}</div>
      ))}
    </div>
  );
}
